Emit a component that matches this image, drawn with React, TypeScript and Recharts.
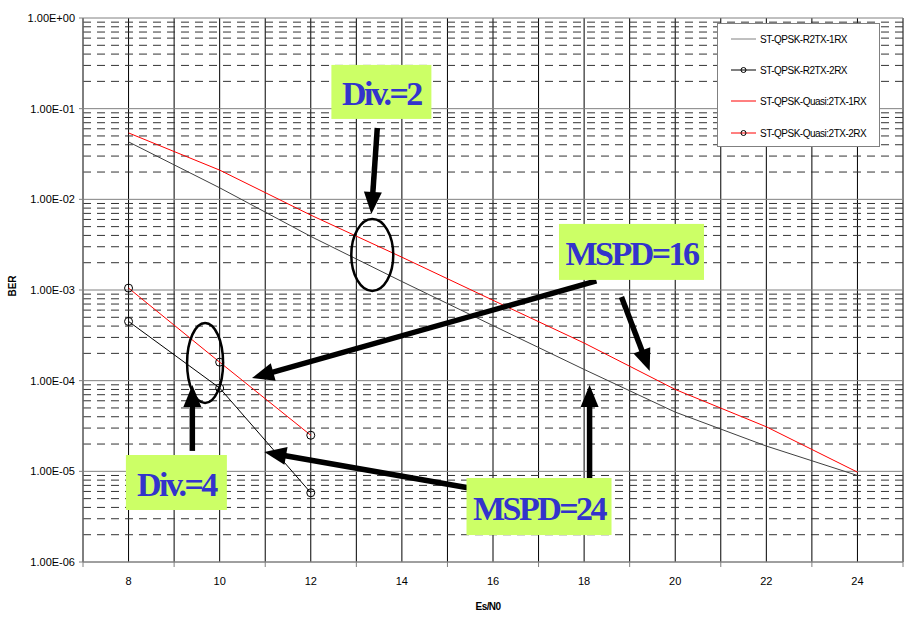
import React from "react"
import { LineChart, Line, XAxis, YAxis, CartesianGrid, ReferenceLine, ReferenceDot, Label } from "recharts"

// Es/N0 points (dB)
const snr = [8, 10, 12, 14, 16, 18, 20, 22, 24]
const berR2tx1rx = [4.3e-2, 1.34e-2, 3.9e-3, 1.24e-3, 4.05e-4, 1.33e-4, 4.5e-5, 1.9e-5, 9e-6]
const berQuasi1rx = [5.4e-2, 2.1e-2, 6.7e-3, 2.3e-3, 7.7e-4, 2.6e-4, 8e-5, 3.1e-5, 9.8e-6]

const snr2rx = [8, 10, 12]
const berR2tx2rx = [4.5e-4, 8.3e-5, 5.8e-6]
const berQuasi2rx = [1.05e-3, 1.6e-4, 2.5e-5]

const xTicks = [7, 8, 9, 10, 11, 12, 13, 14, 15, 16, 17, 18, 19, 20, 21, 22, 23, 24, 25]
const yTicks = [1e-6, 1e-5, 1e-4, 1e-3, 1e-2, 1e-1, 1]
const minorSteps = [2, 3, 4, 5, 6, 7, 8, 9]

const seriesNames = ["ST-QPSK-R2TX-1RX", "ST-QPSK-R2TX-2RX", "ST-QPSK-Quasi:2TX-1RX", "ST-QPSK-Quasi:2TX-2RX"]

const toRows = (xs: number[], ys: number[]) => xs.map((x, i) => ({ snr: x, ber: ys[i] }))

const minorLines = yTicks.slice(0, -1).flatMap((d) => minorSteps.map((m) => m * d))

const fmtE = (v: number) => {
  const [mant, exp] = v.toExponential(2).split("e")
  const n = Number(exp)
  return `${mant}E${n < 0 ? "-" : "+"}${String(Math.abs(n)).padStart(2, "0")}`
}

const SANS = "'Liberation Sans', Arial, sans-serif"
const SERIF = "'Liberation Serif', 'Times New Roman', serif"

// callouts, placed in data coordinates
const boxes = [
  { text: "Div.=2", x: 13.55, y: 0.153, w: 100, h: 54 },
  { text: "MSPD=16", x: 19.04, y: 2.63e-3, w: 145, h: 56 },
  { text: "Div.=4", x: 9.05, y: 7.53e-6, w: 101, h: 55 },
  { text: "MSPD=24", x: 17.01, y: 4.09e-6, w: 145, h: 57 },
]
const rings = [
  { x: 13.35, y: 2.43e-3, rx: 21, ry: 36 },
  { x: 9.68, y: 1.57e-4, rx: 18, ry: 40 },
]
const arrows = [
  { from: [13.46, 0.0612], to: [13.33, 6.9e-3] },
  { from: [18.27, 1.26e-3], to: [10.71, 1.07e-4] },
  { from: [18.82, 8.37e-4], to: [19.44, 1.28e-4] },
  { from: [9.4, 1.68e-5], to: [9.4, 8.95e-5] },
  { from: [15.48, 6.55e-6], to: [10.98, 1.63e-5] },
  { from: [18.12, 8.0e-6], to: [18.12, 8.95e-5] },
]

const ArrowShape = (props: any) => {
  const { x1, y1, x2, y2 } = props
  const dx = x2 - x1
  const dy = y2 - y1
  const len = Math.sqrt(dx * dx + dy * dy)
  const ux = dx / len
  const uy = dy / len
  const hl = 22
  const hw = 9
  const bx = x2 - ux * hl
  const by = y2 - uy * hl
  return (
    <g>
      <line x1={x1} y1={y1} x2={bx + ux * 2} y2={by + uy * 2} stroke="#000" strokeWidth={5.5} />
      <polygon
        points={`${x2},${y2} ${bx - uy * hw},${by + ux * hw} ${bx + uy * hw},${by - ux * hw}`}
        fill="#000"
      />
    </g>
  )
}

const XTick = (props: any) => {
  const { x, y, payload } = props
  const v = payload.value
  if (v % 2 === 1) {
    return <line x1={x} y1={y - 15} x2={x} y2={y - 10} stroke="#808080" />
  }
  return (
    <text x={x} y={y} dy="0.71em" textAnchor="middle" fontSize={11} fontFamily={SANS} fill="#000">
      {v}
    </text>
  )
}

function ChartLegend() {
  const rowsY = [15, 46, 77, 109]
  const colors = ["#808080", "#000", "#ff0000", "#ff0000"]
  return (
    <div
      style={{
        position: "absolute",
        left: 717,
        top: 23,
        width: 163,
        height: 124,
        background: "#fff",
        border: "1px solid #808080",
        boxSizing: "border-box",
      }}
    >
      <svg width={163} height={124}>
        {seriesNames.map((name, i) => (
          <g key={name}>
            <line x1={13} x2={38} y1={rowsY[i]} y2={rowsY[i]} stroke={colors[i]} />
            {i % 2 === 1 && <circle cx={25.5} cy={rowsY[i]} r={2.5} fill="none" stroke="#000" />}
            <text
              x={42}
              y={rowsY[i]}
              dominantBaseline="central"
              fontSize={10}
              fontFamily={SANS}
              letterSpacing={-0.5}
              fill="#000"
            >
              {name}
            </text>
          </g>
        ))}
      </svg>
    </div>
  )
}

export default function App() {
  return (
    <div style={{ position: "absolute", left: 0, top: 0, width: 907, height: 623, background: "#fff" }}>
      <LineChart width={907} height={623} margin={{ top: 18, right: 4, left: 0, bottom: 0 }}>
        <CartesianGrid horizontal={false} stroke="#000" strokeWidth={1} />
        {minorLines.map((v) => (
          <ReferenceLine key={v} y={v} stroke="#333" strokeDasharray="8 6" />
        ))}
        <CartesianGrid vertical={false} stroke="#808080" strokeWidth={1} />
        <XAxis
          dataKey="snr"
          type="number"
          domain={[7, 25]}
          ticks={xTicks}
          interval={0}
          height={61}
          tickLine={false}
          tickSize={5}
          tickMargin={10}
          tick={<XTick />}
          stroke="#808080"
          allowDuplicatedCategory={false}
        >
          <Label
            content={({ viewBox }: any) => (
              <text
                x={viewBox.x + viewBox.width / 2 - 5}
                y={606}
                textAnchor="middle"
                dominantBaseline="central"
                fontSize={10}
                fontWeight="bold"
                fontFamily={SANS}
                letterSpacing={-0.6}
              >
                Es/N0
              </text>
            )}
          />
        </XAxis>
        <YAxis
          type="number"
          scale="log"
          domain={[1e-6, 1]}
          allowDataOverflow
          ticks={yTicks}
          interval={0}
          width={83}
          tickSize={4}
          tickMargin={4}
          tickFormatter={fmtE}
          tick={{ fontSize: 11, fontFamily: SANS, fill: "#000" }}
          stroke="#808080"
        >
          <Label
            content={({ viewBox }: any) => {
              const cx = viewBox.x + 12
              const cy = viewBox.y + viewBox.height / 2 - 4
              return (
                <text
                  x={cx}
                  y={cy}
                  transform={`rotate(-90 ${cx} ${cy})`}
                  textAnchor="middle"
                  dominantBaseline="central"
                  fontSize={10}
                  fontWeight="bold"
                  fontFamily={SANS}
                >
                  BER
                </text>
              )
            }}
          />
        </YAxis>
        <Line
          data={toRows(snr, berR2tx1rx)}
          dataKey="ber"
          name={seriesNames[0]}
          type="linear"
          stroke="#404040"
          strokeWidth={1}
          dot={false}
          isAnimationActive={false}
        />
        <Line
          data={toRows(snr2rx, berR2tx2rx)}
          dataKey="ber"
          name={seriesNames[1]}
          type="linear"
          stroke="#000"
          strokeWidth={1}
          dot={{ r: 4, stroke: "#000", fill: "none", strokeWidth: 1 }}
          isAnimationActive={false}
        />
        <Line
          data={toRows(snr, berQuasi1rx)}
          dataKey="ber"
          name={seriesNames[2]}
          type="linear"
          stroke="#ff0000"
          strokeWidth={1}
          dot={false}
          isAnimationActive={false}
        />
        <Line
          data={toRows(snr2rx, berQuasi2rx)}
          dataKey="ber"
          name={seriesNames[3]}
          type="linear"
          stroke="#ff0000"
          strokeWidth={1}
          dot={{ r: 4, stroke: "#000", fill: "none", strokeWidth: 1 }}
          isAnimationActive={false}
        />
        {rings.map((r, i) => (
          <ReferenceDot
            key={`ring${i}`}
            x={r.x}
            y={r.y}
            r={1}
            shape={(p: any) => (
              <ellipse cx={p.cx} cy={p.cy} rx={r.rx} ry={r.ry} fill="none" stroke="#000" strokeWidth={2.5} />
            )}
          />
        ))}
        {arrows.map((a, i) => (
          <ReferenceLine
            key={`arrow${i}`}
            segment={[
              { x: a.from[0], y: a.from[1] },
              { x: a.to[0], y: a.to[1] },
            ]}
            shape={ArrowShape}
          />
        ))}
        {boxes.map((b) => (
          <ReferenceDot
            key={b.text}
            x={b.x}
            y={b.y}
            r={1}
            shape={(p: any) => (
              <g>
                <rect x={p.cx - b.w / 2} y={p.cy - b.h / 2} width={b.w} height={b.h} fill="#ccff66" />
                <text
                  x={p.cx}
                  y={p.cy + 2}
                  textAnchor="middle"
                  dominantBaseline="central"
                  fontFamily={SERIF}
                  fontWeight="bold"
                  fontSize={34}
                  letterSpacing={-2.5}
                  fill="#3333cc"
                >
                  {b.text}
                </text>
              </g>
            )}
          />
        ))}
      </LineChart>
      <ChartLegend />
    </div>
  )
}
